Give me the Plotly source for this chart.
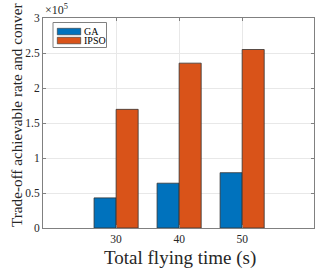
import plotly.graph_objects as go

times = [30, 40, 50]
ga = [43000, 64000, 79000]
ipso = [169500, 235500, 255000]
y_ticks = [0, 50000, 100000, 150000, 200000, 250000, 300000]
y_tick_labels = ["0", "0.5", "1", "1.5", "2", "2.5", "3"]

W, H = 334, 272
L, R, T, B = 43, 20, 18, 44
pw, ph = W - L - R, H - T - B

def px(x):
    return (x - L) / pw

def py(y):
    return (H - B - y) / ph

FONT = "Liberation Serif"

fig = go.Figure()
fig.add_trace(go.Bar(x=times, y=ga, name="GA", marker=dict(color="#0072BD", line=dict(color="#333333", width=0.8))))
fig.add_trace(go.Bar(x=times, y=ipso, name="IPSO", marker=dict(color="#D95319", line=dict(color="#333333", width=0.8))))

fig.update_layout(
    width=W, height=H,
    margin=dict(l=L, r=R, t=T, b=B, autoexpand=False),
    paper_bgcolor="white", plot_bgcolor="white",
    barmode="group", bargap=0.3, bargroupgap=0,
    showlegend=False,
    font=dict(family=FONT, size=11, color="#262626"),
    xaxis=dict(range=[18.4, 61.4], tickvals=times, ticktext=[str(t) for t in times],
               showgrid=True, gridcolor="#e8e8e8", gridwidth=1,
               showline=True, linecolor="#808080", linewidth=1, mirror="ticks",
               ticks="inside", ticklen=3, tickcolor="#808080",
               tickfont=dict(size=11.5, family=FONT), automargin=False,
               zeroline=False),
    yaxis=dict(range=[0, 300000], tickvals=y_ticks, ticktext=y_tick_labels,
               showgrid=True, gridcolor="#e8e8e8", gridwidth=1,
               showline=True, linecolor="#808080", linewidth=1, mirror="ticks",
               ticks="inside", ticklen=3, tickcolor="#808080",
               tickfont=dict(size=11.5, family=FONT), automargin=False,
               zeroline=False),
)

# x-axis title
fig.add_annotation(text="Total flying time (s)", xref="paper", yref="paper",
                   x=px(180), y=py(258), xanchor="center", yanchor="middle", showarrow=False,
                   font=dict(size=19, family=FONT, color="#262626"))
# y-axis title (clipped at the top like the reference)
fig.add_annotation(text="Trade-off achievable rate and conver", textangle=-90,
                   xref="paper", yref="paper", x=px(16), y=py(229),
                   xanchor="center", yanchor="bottom", showarrow=False,
                   font=dict(size=15.2, family=FONT, color="#262626"))
# exponent label
fig.add_annotation(text="×10<sup>5</sup>", xref="paper", yref="paper",
                   x=px(43), y=py(19), xanchor="left", yanchor="bottom", showarrow=False,
                   font=dict(size=12, family=FONT, color="#262626"))

# custom legend
fig.add_shape(type="rect", xref="paper", yref="paper", x0=px(53), x1=px(106.5), y0=py(47.5), y1=py(22.5),
              line=dict(color="#808080", width=1), fillcolor="white", layer="above")
for i, (name, col) in enumerate([("GA", "#0072BD"), ("IPSO", "#D95319")]):
    y0 = 28.3 + i * 9
    fig.add_shape(type="rect", xref="paper", yref="paper", x0=px(57.3), x1=px(80.7), y0=py(y0 + 6.5), y1=py(y0),
                  line=dict(color="#333333", width=0.6), fillcolor=col, layer="above")
    fig.add_annotation(text=name, xref="paper", yref="paper", x=px(81.5), y=py(y0 + 3.2),
                       xanchor="left", yanchor="middle", showarrow=False,
                       font=dict(size=10, family=FONT, color="#000000"))

fig.write_html("out.html", config={"displayModeBar": False},
               post_script="document.body.style.margin='0';document.body.style.overflow='hidden';")
